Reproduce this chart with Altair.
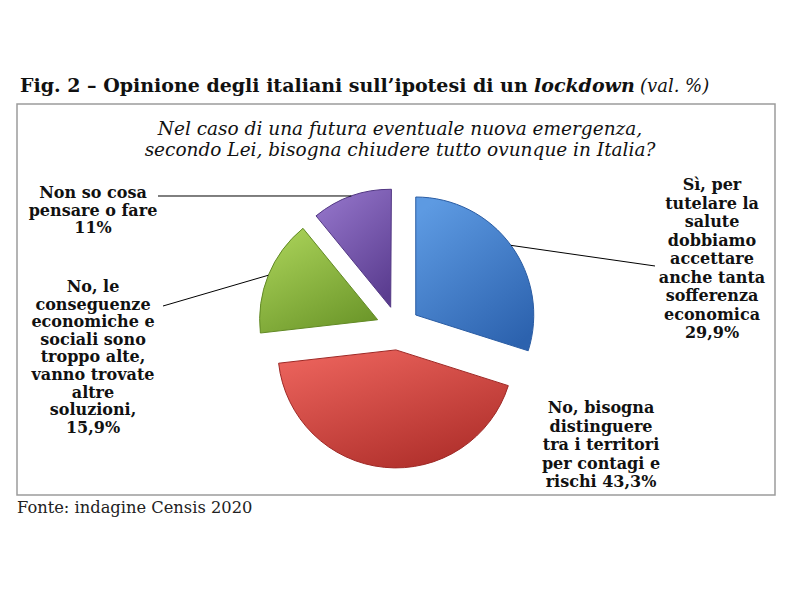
import math
import altair as alt
import pandas as pd

# ---------------- data ----------------
categories = [
    "Sì, per tutelare la salute dobbiamo accettare anche tanta sofferenza economica",
    "No, bisogna distinguere tra i territori per contagi e rischi",
    "No, le conseguenze economiche e sociali sono troppo alte, vanno trovate altre soluzioni",
    "Non so cosa pensare o fare",
]
values = [29.9, 43.3, 15.9, 11.0]
label_text = [
    "Sì, per\ntutelare la\nsalute\ndobbiamo\naccettare\nanche tanta\nsofferenza\neconomica\n29,9%",
    "No, bisogna\ndistinguere\ntra i territori\nper contagi e\nrischi 43,3%",
    "No, le\nconseguenze\neconomiche e\nsociali sono\ntroppo alte,\nvanno trovate\naltre\nsoluzioni,\n15,9%",
    "Non so cosa\npensare o fare\n11%",
]

df = pd.DataFrame({
    "category": categories,
    "value": values,
    "label": label_text,
    "order": list(range(len(categories))),
})

# ---------------- styling / layout ----------------
OFF = 8  # page margin
def P(v):
    return v - OFF

CX, CY = P(398), P(328)   # pie centre (chart px)
R = 118                   # outer radius
EXP = 22                  # explode distance

gradients = [
    ("#5d9ae2", "#2c62ae"),  # blue
    ("#ea625b", "#ad2d29"),  # red
    ("#a9d158", "#6b9629"),  # green
    ("#9374c9", "#5a3c8f"),  # purple
]
edges = ["#2a5ca3", "#9e2825", "#628a25", "#523783"]

label_pos = [(712, 177), (601, 400), (93, 279), (93, 185)]       # page px, top-centre of label block
label_lh = [18.5, 18.5, 17.6, 17.6]
leader_end = [(655, 266), None, (163, 306), (158, 196)]          # page px, label side of leader

FONT = "DejaVu Serif"

two_pi = 2 * math.pi

base = (
    alt.Chart(df)
    .transform_window(cum="sum(value)", sort=[alt.SortField("order")], frame=[None, 0])
    .transform_calculate(
        start="datum.cum - datum.value",
        mid=f"(datum.cum - datum.value / 2) / 100 * {two_pi}",
    )
    .transform_calculate(
        cx=f"{CX} + {EXP} * sin(datum.mid)",
        cy=f"{CY} - {EXP} * cos(datum.mid)",
    )
    .transform_calculate(
        ax=f"datum.cx + {R} * sin(datum.mid)",
        ay=f"datum.cy - {R} * cos(datum.mid)",
    )
)

theta_scale = alt.Scale(domain=[0, 100], range=[0, two_pi])

layers = []

# frame box
one = pd.DataFrame({"k": [0]})
layers.append(
    alt.Chart(one).mark_rect(fill="white", stroke="#9c9c9c", strokeWidth=1.5).encode(
        x=alt.value(P(17)), x2=alt.value(P(775)), y=alt.value(P(104)), y2=alt.value(P(495))
    )
)

# pie slices
for i in range(len(categories)):
    light, dark = gradients[i]
    layers.append(
        base.transform_filter(f"datum.order == {i}")
        .mark_arc(
            outerRadius=R,
            color=alt.Gradient(
                gradient="linear",
                stops=[alt.GradientStop(color=light, offset=0),
                       alt.GradientStop(color=dark, offset=1)],
                x1=0.2, y1=0, x2=0.8, y2=1,
            ),
            stroke=edges[i],
            strokeWidth=1,
        )
        .encode(
            theta=alt.Theta("start:Q", scale=theta_scale),
            theta2="cum:Q",
            x=alt.X("cx:Q", scale=None),
            y=alt.Y("cy:Q", scale=None),
        )
    )

# leader lines
for i in range(len(categories)):
    if leader_end[i] is None:
        continue
    ex, ey = leader_end[i]
    layers.append(
        base.transform_filter(f"datum.order == {i}")
        .mark_rule(color="black", strokeWidth=1)
        .encode(
            x=alt.X("ax:Q", scale=None),
            y=alt.Y("ay:Q", scale=None),
            x2=alt.value(P(ex)),
            y2=alt.value(P(ey)),
        )
    )

# slice labels
for i in range(len(categories)):
    lx, ly = label_pos[i]
    layers.append(
        base.transform_filter(f"datum.order == {i}")
        .mark_text(
            align="center", baseline="top", lineBreak="\n", lineHeight=label_lh[i],
            font=FONT, fontWeight="bold", fontSize=16, color="#111111",
        )
        .encode(text="label:N", x=alt.value(P(lx)), y=alt.value(P(ly)))
    )

# title (mixed styles)
layers.append(
    alt.Chart(one).mark_text(
        align="left", baseline="alphabetic", font=FONT, fontWeight="bold",
        fontSize=19, color="#111111", text="Fig. 2 – Opinione degli italiani sull’ipotesi di un",
    ).encode(x=alt.value(P(20)), y=alt.value(P(92)))
)
layers.append(
    alt.Chart(one).mark_text(
        align="left", baseline="alphabetic", font=FONT, fontWeight="bold", fontStyle="italic",
        fontSize=19, color="#111111", text="lockdown",
    ).encode(x=alt.value(P(534)), y=alt.value(P(92)))
)
layers.append(
    alt.Chart(one).mark_text(
        align="left", baseline="alphabetic", font=FONT, fontStyle="italic",
        fontSize=18, color="#111111", text="(val. %)",
    ).encode(x=alt.value(P(640)), y=alt.value(P(92)))
)

# question subtitle
layers.append(
    alt.Chart(one).mark_text(
        align="center", baseline="alphabetic", font=FONT, fontStyle="italic",
        fontSize=18.5, color="#111111", lineHeight=20.5, lineBreak="\n",
        text="Nel caso di una futura eventuale nuova emergenza,\nsecondo Lei, bisogna chiudere tutto ovunque in Italia?",
    ).encode(x=alt.value(P(400)), y=alt.value(P(135)))
)

# source
layers.append(
    alt.Chart(one).mark_text(
        align="left", baseline="alphabetic", font=FONT,
        fontSize=16.3, color="#222222", text="Fonte: indagine Censis 2020",
    ).encode(x=alt.value(P(17)), y=alt.value(P(513)))
)

chart = (
    alt.layer(*layers)
    .properties(width=784, height=584, padding=0,
                autosize=alt.AutoSizeParams(type="fit", contains="padding"))
    .configure_view(strokeWidth=0)
)

chart.save("out.html", embed_options={"renderer": "svg", "actions": False})
